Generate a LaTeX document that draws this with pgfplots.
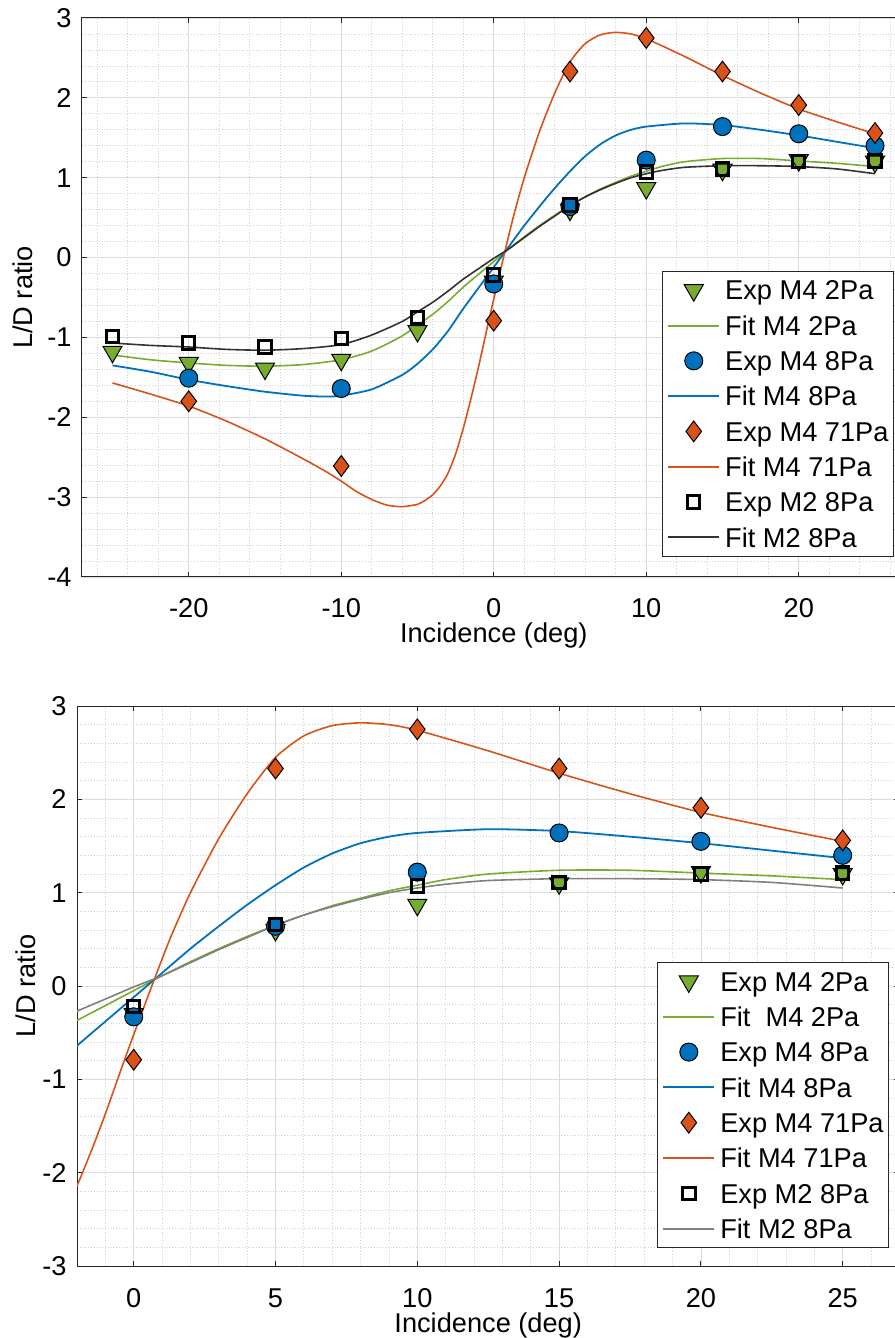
\documentclass[border=0pt]{standalone}
\usepackage{fontspec}
\setmainfont{Liberation Sans}
\usepackage{pgfplots}
\pgfplotsset{compat=1.18}
\usepackage{pgfplotstable}

\definecolor{mgreen}{rgb}{0.466,0.674,0.188}
\definecolor{mblue}{rgb}{0,0.447,0.741}
\definecolor{morange}{rgb}{0.85,0.325,0.098}
\definecolor{axgray}{gray}{0.15}

% experimental points
\pgfplotstableread{
x y
-25 -1.18
-20 -1.32
-15 -1.39
-10 -1.28
-5 -0.92
0 -0.30
5 0.60
10 0.87
15 1.10
20 1.22
25 1.20
}\expG
\pgfplotstableread{
x y
-20 -1.51
-10 -1.64
0 -0.33
5 0.64
10 1.22
15 1.64
20 1.55
25 1.40
}\expB
\pgfplotstableread{
x y
-20 -1.80
-10 -2.61
0 -0.79
5 2.33
10 2.75
15 2.33
20 1.91
25 1.56
}\expO
\pgfplotstableread{
x y
-25 -0.99
-20 -1.07
-15 -1.12
-10 -1.01
-5 -0.75
0 -0.22
5 0.66
10 1.07
15 1.11
20 1.20
25 1.21
}\expK

% fitted curves
\pgfplotstableread{
x y
-25 -1.22
-22.5 -1.28
-20 -1.32
-17.5 -1.35
-15 -1.36
-12.5 -1.34
-10 -1.28
-8 -1.17
-6 -0.98
-4 -0.71
-3 -0.55
-2 -0.37
-1 -0.21
0 -0.05
1 0.11
2 0.26
3 0.40
4 0.53
5 0.65
6 0.76
7 0.86
8 0.94
9 1.02
10 1.08
11 1.14
12.5 1.20
15 1.24
17.5 1.24
20 1.21
22.5 1.18
25 1.14
}\fitG
\pgfplotstableread{
x y
-25 -1.35
-22.5 -1.43
-20 -1.53
-17.5 -1.61
-15 -1.68
-12.5 -1.73
-11 -1.74
-10 -1.73
-8 -1.65
-6 -1.47
-5 -1.33
-4 -1.15
-3 -0.92
-2 -0.64
-1 -0.38
0 -0.12
1 0.14
2 0.40
3 0.64
4 0.87
5 1.08
6 1.27
7 1.42
8 1.53
9 1.60
10 1.64
12.5 1.68
15 1.66
17.5 1.60
20 1.53
22.5 1.45
25 1.37
}\fitB
\pgfplotstableread{
x y
-25 -1.57
-22.5 -1.71
-20 -1.86
-17.5 -2.05
-15 -2.27
-12.5 -2.52
-11 -2.68
-10 -2.80
-9 -2.93
-8 -3.03
-7 -3.10
-6 -3.12
-5 -3.09
-4.5 -3.04
-4 -2.97
-3.5 -2.86
-3 -2.70
-2.5 -2.46
-2 -2.14
-1.5 -1.77
-1 -1.37
-0.5 -0.94
0 -0.52
0.7 0.05
1.3 0.52
2 1.00
3 1.58
4 2.06
5 2.45
6 2.68
7 2.79
8 2.82
9 2.80
10 2.74
12.5 2.52
15 2.28
17.5 2.06
20 1.86
22.5 1.70
25 1.55
}\fitO
\pgfplotstableread{
x y
-25 -1.07
-22.5 -1.10
-20 -1.12
-17.5 -1.15
-15 -1.16
-12.5 -1.14
-10 -1.09
-8 -0.97
-6 -0.80
-5 -0.68
-4 -0.56
-3 -0.42
-2 -0.27
-1 -0.14
0 -0.01
1 0.11
2 0.25
3 0.39
4 0.52
5 0.65
6 0.76
7 0.85
8 0.93
9 1.00
10 1.05
11 1.09
12.5 1.13
15 1.15
17.5 1.15
20 1.14
22.5 1.11
25 1.05
}\fitK

\newcommand{\ff}{\fontsize{13.6}{16}\selectfont}

\pgfplotsset{
  ld/.style={
    scale only axis,
    axis line style={axgray, line width=0.5pt},
    tick style={axgray, line width=0.5pt},
    tick align=inside,
    major tick length=2.5pt,
    minor tick length=0pt,
    grid=both,
    major grid style={gray!28, line width=0.4pt},
    minor grid style={gray!35, densely dotted, line width=0.4pt},
    /pgf/number format/assume math mode=true,
    tick label style={font=\ff},
    xticklabel style={anchor=base, yshift=-20.5pt, inner sep=0pt},
    yticklabel style={anchor=east, xshift=-5pt, inner sep=0pt},
    every axis x label/.style={at={(rel axis cs:0.5,0)}, anchor=base, yshift=-33pt, font=\ff},
    xlabel={Incidence (deg)},
    ylabel={L/D ratio},
    legend cell align=left,
    legend style={anchor=north west, draw=axgray, line width=0.5pt, fill=white,
      font=\ff, inner xsep=2.5pt, inner ysep=0.7pt, row sep=0pt, column sep=2.5pt,
      nodes={inner sep=0pt, text height=13.7pt, text depth=3.95pt}},
  },
  mk/.style={only marks, draw=black, line width=0.5pt,
    legend image code/.code={\draw[##1] plot coordinates {(12.75pt,0pt)};}},
  ln/.style={no marks, smooth, tension=0.4,
    legend image code/.code={\draw[##1, draw=#1, line width=1pt] (0pt,0pt) -- (25.5pt,0pt);}},
  tri/.style={mk, mark=triangle*, mark size=5.5pt, mark options={rotate=180, fill=mgreen}},
  circ/.style={mk, mark=*, mark size=4.5pt, mark options={fill=mblue}},
  diam/.style={mk, mark=diamond*, mark size=5.2pt, mark options={fill=morange}},
  sq/.style={only marks, mark=square, mark size=3.1pt, draw=black, line width=1.5pt,
    legend image code/.code={\draw[##1] plot coordinates {(12.75pt,0pt)};}},
}

\begin{document}
\begin{tikzpicture}
\path[use as bounding box] (0pt,0pt) rectangle (447pt,-669pt);

\begin{axis}[ld,
  at={(41pt,-9pt)}, anchor=north west,
  width=411.75pt, height=279.5pt,
  xmin=-27, xmax=27, ymin=-4, ymax=3,
  xtick={-20,-10,0,10,20}, ytick={-4,-3,...,3},
  minor xtick={-26,-24,...,26},
  minor ytick={-3.8,-3.6,-3.4,-3.2,-2.8,-2.6,-2.4,-2.2,-1.8,-1.6,-1.4,-1.2,-0.8,-0.6,-0.4,-0.2,0.2,0.4,0.6,0.8,1.2,1.4,1.6,1.8,2.2,2.4,2.6,2.8},
  every axis y label/.style={at={(rel axis cs:0,0.5)}, xshift=-29.5pt, rotate=90, anchor=center, font=\ff},
  legend style={at={(rel axis cs:0.704,0.548)}},
]
\addplot[tri] table {\expG};
\addlegendentry{Exp M4 2Pa}
\addplot[ln=mgreen, mgreen, line width=0.8pt] table {\fitG};
\addlegendentry{Fit M4 2Pa}
\addplot[circ] table {\expB};
\addlegendentry{Exp M4 8Pa}
\addplot[ln=mblue, mblue, line width=0.9pt] table {\fitB};
\addlegendentry{Fit M4 8Pa}
\addplot[diam] table {\expO};
\addlegendentry{Exp M4 71Pa}
\addplot[ln=morange, morange, line width=0.8pt] table {\fitO};
\addlegendentry{Fit M4 71Pa}
\addplot[sq] table {\expK};
\addlegendentry{Exp M2 8Pa}
\addplot[ln=black!80, black!80, line width=0.8pt] table {\fitK};
\addlegendentry{Fit M2 8Pa}
\end{axis}

\begin{axis}[ld,
  at={(38.5pt,-353pt)}, anchor=north west,
  width=411.2pt, height=280pt,
  xmin=-2, xmax=27, ymin=-3, ymax=3,
  xtick={0,5,...,25}, ytick={-3,-2,...,3},
  minor xtick={-1,...,26},
  minor ytick={-2.8,-2.6,-2.4,-2.2,-1.8,-1.6,-1.4,-1.2,-0.8,-0.6,-0.4,-0.2,0.2,0.4,0.6,0.8,1.2,1.4,1.6,1.8,2.2,2.4,2.6,2.8},
  every axis y label/.style={at={(rel axis cs:0,0.5)}, xshift=-25.5pt, rotate=90, anchor=center, font=\ff},
  legend style={at={(rel axis cs:0.705,0.543)}},
]
\addplot[tri] table {\expG};
\addlegendentry{Exp M4 2Pa}
\addplot[ln=mgreen, mgreen, line width=0.8pt] table {\fitG};
\addlegendentry{Fit\ \ M4 2Pa}
\addplot[circ] table {\expB};
\addlegendentry{Exp M4 8Pa}
\addplot[ln=mblue, mblue, line width=0.9pt] table {\fitB};
\addlegendentry{Fit M4 8Pa}
\addplot[diam] table {\expO};
\addlegendentry{Exp M4 71Pa}
\addplot[ln=morange, morange, line width=0.8pt] table {\fitO};
\addlegendentry{Fit M4 71Pa}
\addplot[sq] table {\expK};
\addlegendentry{Exp M2 8Pa}
\addplot[ln=gray, gray, line width=0.8pt] table {\fitK};
\addlegendentry{Fit M2 8Pa}
\end{axis}
\end{tikzpicture}
\end{document}
